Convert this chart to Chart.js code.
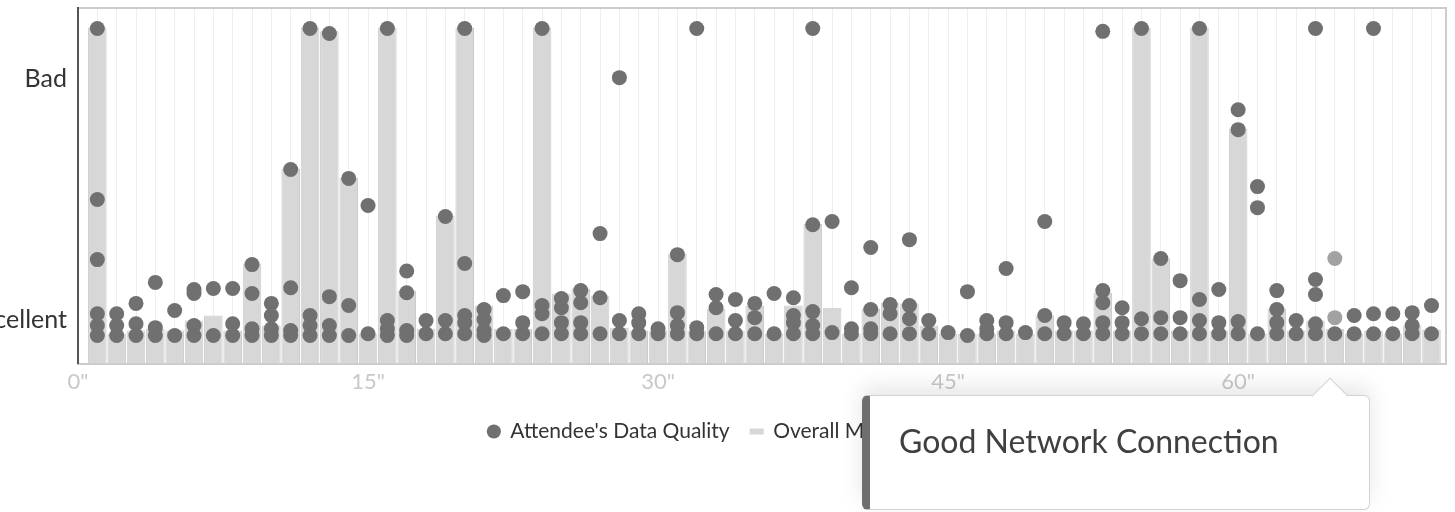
<!DOCTYPE html>
<html>
<head>
<meta charset="utf-8">
<script src="https://cdn.jsdelivr.net/npm/chart.js@4.4.1/dist/chart.umd.min.js"></script>
<style>
  html, body { margin: 0; padding: 0; background: #ffffff; overflow: hidden; }
  #wrap { position: relative; width: 1455px; height: 512px; }
  #chart { position: absolute; left: 0; top: 0; }
  #tip {
    position: absolute; left: 862px; top: 395px; width: 499px; height: 113px;
    background: #ffffff; border: 1px solid #d2d2d2; border-left: 8px solid #6f6f6f;
    border-radius: 6px; box-shadow: 0 -8px 22px rgba(0,0,0,0.10);
    font-family: Lato, sans-serif; z-index: 2;
  }
  #tip .txt { position: absolute; left: 29px; top: 25px; font-size: 32px; color: #404040; white-space: nowrap; }
  #arrow {
    position: absolute; left: 1317px; top: 383px; width: 25px; height: 25px;
    background: #ffffff; border-top: 1px solid #d2d2d2; border-left: 1px solid #d2d2d2;
    transform: rotate(45deg); z-index: 3;
  }
</style>
</head>
<body>
<div id="wrap">
  <canvas id="chart" width="1455" height="512"></canvas>
  <div id="tip"><div class="txt" id="tipText"></div></div>
  <div id="arrow"></div>
</div>
<script>
// ---- data ----
const seconds = [1,2,3,4,5,6,7,8,9,10,11,12,13,14,15,16,17,18,19,20,21,22,23,24,25,26,27,28,29,30,31,32,33,34,35,36,37,38,39,40,41,42,43,44,45,46,47,48,49,50,51,52,53,54,55,56,57,58,59,60,61,62,63,64,65,66,67,68,69,70];

const overallQuality = [94.4, 8.4, 9.3, 9.8, 9.3, 12.1, 13.5, 9.3, 28.1, 10.7,
  54.8, 94.4, 93.3, 52.2, 8.4, 94.4, 20.5, 9.8, 41.6, 94.4,
  16.3, 9.8, 9.8, 94.4, 19.7, 21.1, 19.1, 10.1, 9.3, 9.3,
  30.9, 9.3, 15.4, 9.3, 16.3, 8.4, 16.3, 39.3, 15.7, 8.4,
  15.4, 17.1, 16.9, 10.7, 8.4, 8.4, 8.4, 9.3, 8.4, 13.5,
  9.3, 9.3, 19.9, 9.3, 94.4, 29.5, 9.3, 94.4, 9.3, 66.0,
  8.4, 15.4, 9.3, 12.1, 9.8, 8.4, 9.3, 8.4, 10.7, 9.6];

const attendeeQuality = [
  [94.1, 46.1, 29.2, 14.0, 10.7, 7.9],
  [14.0, 10.7, 7.9],
  [16.9, 11.2, 7.9],
  [22.8, 10.1, 7.9],
  [14.9, 7.9],
  [20.8, 19.7, 10.7, 7.9],
  [21.1, 7.9],
  [21.1, 11.2, 7.9],
  [27.8, 19.7, 9.8, 7.9],
  [16.9, 13.5, 9.8, 7.9],
  [54.5, 21.3, 9.3, 7.9],
  [94.1, 13.5, 10.7, 7.9],
  [92.7, 18.8, 10.7, 7.9],
  [52.0, 16.3, 7.9],
  [44.4, 8.4],
  [94.1, 12.1, 9.8, 7.9],
  [26.0, 19.9, 9.3, 7.9],
  [12.1, 8.4],
  [41.3, 12.1, 8.4],
  [94.1, 28.1, 13.5, 11.5, 8.4],
  [15.2, 12.4, 9.3, 7.9],
  [19.1, 8.4],
  [20.2, 11.5, 8.4],
  [94.1, 16.3, 14.0, 8.4],
  [18.3, 15.7, 11.5, 8.4],
  [20.5, 17.1, 11.5, 8.4],
  [36.5, 18.5, 8.4],
  [80.3, 12.1, 8.4],
  [14.0, 11.5, 8.4],
  [9.8, 8.4],
  [30.6, 14.3, 10.7, 8.4],
  [94.1, 10.1, 8.4],
  [19.4, 15.7, 8.4],
  [18.0, 12.1, 8.4],
  [16.9, 12.9, 8.4],
  [19.7, 8.4],
  [18.5, 13.5, 11.5, 8.4],
  [94.1, 39.0, 14.6, 10.7, 8.4],
  [39.9, 8.7],
  [21.3, 9.8, 8.4],
  [32.6, 15.2, 9.8, 8.4],
  [16.6, 14.0, 8.4],
  [34.8, 16.3, 12.6, 8.4],
  [12.1, 8.4],
  [8.7],
  [20.2, 7.9],
  [12.1, 9.8, 8.4],
  [26.7, 11.5, 8.4],
  [8.7],
  [39.9, 13.5, 8.4],
  [11.5, 8.4],
  [11.2, 8.4],
  [93.3, 20.5, 17.1, 11.5, 8.4],
  [15.7, 11.5, 8.4],
  [94.1, 12.6, 8.4],
  [29.5, 12.9, 8.4],
  [23.3, 12.9, 8.4],
  [94.1, 18.0, 12.1, 8.4],
  [20.8, 11.5, 8.4],
  [71.3, 65.7, 11.8, 8.4],
  [49.7, 43.8, 8.4],
  [20.5, 15.2, 11.5, 8.4],
  [12.1, 8.4],
  [94.1, 23.6, 19.4, 11.2, 8.4],
  [29.5, 12.9, 8.4],
  [13.5, 8.4],
  [94.1, 14.0, 8.4],
  [14.0, 8.4],
  [14.3, 10.7, 8.4],
  [16.3, 8.4]
];

const xTickSeconds = [0, 15, 30, 45, 60];
const yTickValues = [12.4, 80];
const yTickLabels = ['Excellent', 'Bad'];
const seriesNames = ["Attendee's Data Quality", 'Overall Meeting Quality'];
const hoveredSecond = 65;
const tooltipText = 'Good Network Connection';

// ---- build library structures ----
const attendeePoints = [];
seconds.forEach((s, i) => attendeeQuality[i].forEach(v => attendeePoints.push({ x: s, y: v })));
const overallBars = seconds.map((s, i) => ({ x: s, y: overallQuality[i] }));

const X_MAX = 70.75;
const gridPositions = seconds.map(s => s - 0.5).concat([seconds[seconds.length - 1] + 0.5]);
const LEGEND_SHIFT = 18;

const DARK = '#707070';
const LIGHT = '#a2a2a2';
const BAR = '#d7d7d7';

Chart.defaults.font.family = 'Lato, sans-serif';

document.getElementById('tipText').textContent = tooltipText;

const legendShift = {
  id: 'legendShift',
  afterLayout(chart) {
    const l = chart.legend;
    if (l) { l.left += LEGEND_SHIFT; l.right += LEGEND_SHIFT; }
  }
};

new Chart(document.getElementById('chart'), {
  type: 'bar',
  plugins: [legendShift],
  data: {
    datasets: [
      {
        type: 'scatter',
        label: seriesNames[0],
        data: attendeePoints,
        backgroundColor: c => (c.raw && c.raw.x === hoveredSecond && c.raw.y > 9) ? LIGHT : DARK,
        borderWidth: 0,
        pointRadius: 7.5,
        pointHoverRadius: 7.5,
        order: 0
      },
      {
        type: 'bar',
        label: seriesNames[1],
        data: overallBars,
        backgroundColor: BAR,
        borderColor: '#cbcbcb',
        borderWidth: 1,
        barPercentage: 0.96,
        categoryPercentage: 1,
        order: 1
      }
    ]
  },
  options: {
    responsive: false,
    animation: false,
    events: [],
    layout: { padding: { top: 6, right: 9, bottom: 60, left: 0 } },
    plugins: {
      tooltip: { enabled: false },
      legend: {
        position: 'bottom',
        labels: {
          usePointStyle: true,
          boxWidth: 12,
          boxHeight: 10,
          padding: 21,
          color: '#333333',
          font: { size: 21 },
          generateLabels: chart => {
            const items = Chart.defaults.plugins.legend.labels.generateLabels(chart);
            items[0].pointStyle = 'circle';
            items[0].fillStyle = DARK;
            items[0].strokeStyle = DARK;
            items[0].lineWidth = 0;
            items[1].pointStyle = 'line';
            items[1].fillStyle = BAR;
            items[1].strokeStyle = BAR;
            items[1].lineWidth = 6;
            return items;
          }
        }
      }
    },
    scales: {
      x: {
        type: 'linear', position: 'bottom', min: 0, max: X_MAX, offset: false,
        grid: { display: false, drawTicks: false },
        border: { display: true, color: '#cccccc', width: 2 },
        ticks: { color: '#c8c8c8', font: { size: 22 }, padding: 5, autoSkip: false, maxRotation: 0,
                 callback: v => v + '"' },
        afterBuildTicks: s => { s.ticks = xTickSeconds.map(v => ({ value: v })); }
      },
      x2: {
        type: 'linear', position: 'top', min: 0, max: X_MAX, offset: false, display: true,
        grid: { color: '#eeeeee', lineWidth: 1, drawTicks: false },
        border: { display: true, color: '#cccccc', width: 2 },
        ticks: { display: false },
        afterBuildTicks: s => { s.ticks = gridPositions.map(v => ({ value: v })); },
        afterFit: s => { s.height = 0; s.paddingLeft = 0; s.paddingRight = 0; }
      },
      y: {
        type: 'linear', position: 'left', min: 0, max: 100,
        grid: { display: false, drawTicks: false },
        border: { display: true, color: '#555555', width: 2 },
        ticks: { color: '#333333', font: { size: 25 }, padding: 11,
                 callback: v => { const i = yTickValues.indexOf(v); return i >= 0 ? yTickLabels[i] : ''; } },
        afterBuildTicks: s => { s.ticks = yTickValues.map(v => ({ value: v })); },
        afterFit: s => { s.width = 78; s.paddingTop = 0; s.paddingBottom = 0; }
      },
      y2: {
        type: 'linear', position: 'right', min: 0, max: 100, display: true,
        grid: { display: false, drawTicks: false },
        border: { display: true, color: '#cccccc', width: 2 },
        ticks: { display: false },
        afterFit: s => { s.width = 0; s.paddingTop = 0; s.paddingBottom = 0; }
      }
    }
  }
});
</script>
</body>
</html>
